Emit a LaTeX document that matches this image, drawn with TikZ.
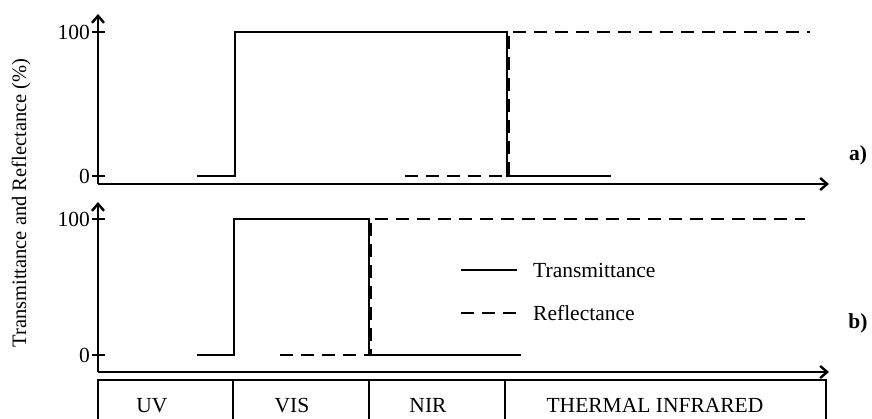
\documentclass[tikz,border=0pt]{standalone}
\usepackage{fontspec}
\setmainfont{Liberation Serif}
\usepackage{tikz}
\usetikzlibrary{arrows.meta}

\begin{document}
\begin{tikzpicture}[x=1pt,y=-1pt,
    every node/.style={font=\fontsize{21.5}{24}\selectfont,inner sep=0pt},
    axis/.style={line width=2.2pt,-{Straight Barb[length=7pt,width=12pt,line width=2.4pt]}},
    tick/.style={line width=2pt},
    trans/.style={line width=2pt},
    refl/.style={line width=2pt,dash pattern=on 13pt off 8pt},
    band/.style={anchor=base}]
  \useasboundingbox (0,0) rectangle (872,419);
  % panel a
  \draw[axis] (98,184) -- (98,14);
  \draw[axis] (98,184) -- (829,184);
  \draw[tick] (92,32) -- (105,32);
  \draw[tick] (92,176) -- (105,176);
  \node[anchor=east] (hundredA) at (90,32) {100};
  \node[anchor=east] (zeroA) at (90,176) {0};
  \draw[trans] (197,176) -- (235,176) -- (235,32) -- (507,32) -- (507,176) -- (611,176);
  \draw[refl] (405,176) -- (509,176) -- (509,32) -- (810,32);
  \node[font=\fontsize{21.5}{24}\selectfont\bfseries] (labelA) at (858,155) {a)};
  % panel b
  \draw[axis] (98,372) -- (98,202);
  \draw[axis] (98,372) -- (829,372);
  \draw[tick] (92,219) -- (105,219);
  \draw[tick] (92,355) -- (105,355);
  \node[anchor=east] (hundredB) at (90,219) {100};
  \node[anchor=east] (zeroB) at (90,355) {0};
  \draw[trans] (197,355) -- (234,355) -- (234,219) -- (369,219) -- (369,355) -- (521,355);
  \draw[refl] (280,355) -- (371,355) -- (371,219) -- (805,219);
  \node[font=\fontsize{21.5}{24}\selectfont\bfseries] (labelB) at (858,323) {b)};
  % legend
  \draw[trans] (461,270) -- (517,270);
  \node[anchor=west] (legT) at (533,270) {Transmittance};
  \draw[refl] (461,313) -- (517,313);
  \node[anchor=west] (legR) at (533,313) {Reflectance};
  % y label
  \node[rotate=90,font=\fontsize{20.5}{23}\selectfont] (ylabel) at (21,203) {Transmittance and Reflectance (\%)};
  % band box
  \draw[line width=2pt] (98,419) -- (98,380) -- (826,380) -- (826,419);
  \foreach \bx in {233,369,505}
    \draw[line width=2pt] (\bx,380) -- (\bx,419);
  \node[band] (uv) at (152,412) {UV};
  \node[band] (vis) at (292,412) {VIS};
  \node[band] (nir) at (428,412) {NIR};
  \node[band] (tir) at (655,412) {THERMAL INFRARED};
\end{tikzpicture}
\end{document}
